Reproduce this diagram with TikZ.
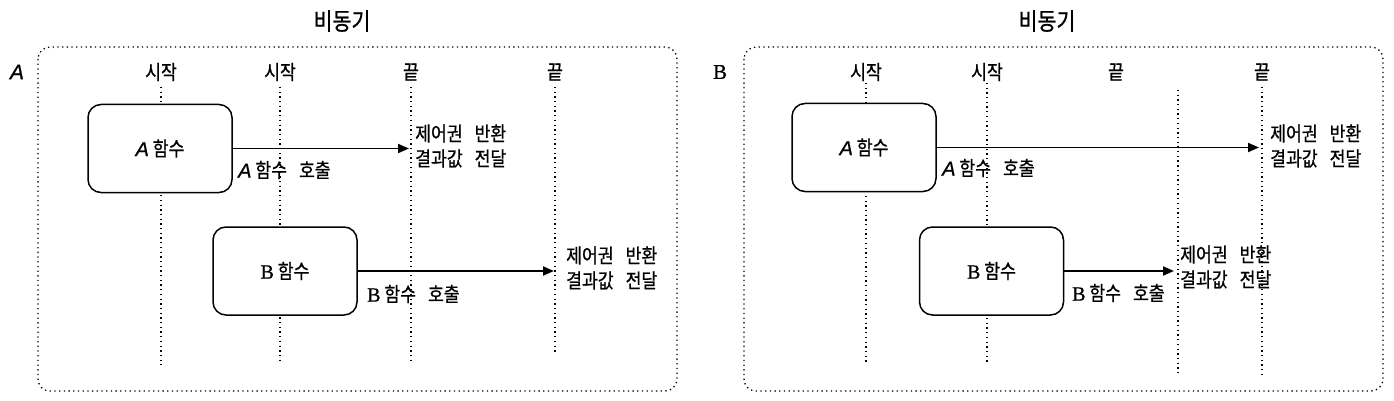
\documentclass[tikz,border=0pt]{standalone}
\usepackage{fontspec}
\setmainfont{Noto Sans CJK KR}[FakeBold=0.7, FakeStretch=0.86]
\newfontfamily\handA{Liberation Sans}[FakeBold=0.8]
\newfontfamily\handB{Liberation Serif}[FakeBold=0.8]
\usetikzlibrary{arrows.meta}

\tikzset{
  txt/.style={inner sep=0pt, font=\fontsize{20}{25}\selectfont},
  ttl/.style={inner sep=0pt, font=\fontsize{24}{28}\selectfont},
  func/.style={draw, line width=1.5pt, rounded corners=13pt, fill=white,
    minimum width=144pt, minimum height=88pt, inner sep=0pt,
    font=\fontsize{20}{25}\selectfont},
  lane/.style={line width=1.3pt, dash pattern=on 1.3pt off 3.4pt},
  frame/.style={line width=1.3pt, dash pattern=on 1.3pt off 3.4pt, rounded corners=12pt},
  call/.style={-{Triangle[length=11pt,width=9pt]}, line width=1.9pt},
}
\newcommand{\la}{{\handA\itshape A}}
\newcommand{\lb}{{\handB B}}
\newcommand{\gap}{\hspace{0.6em}}

\begin{document}
\begin{tikzpicture}[x=1pt,y=-1pt]
  \useasboundingbox (0,0) rectangle (1394,401);

  % ---- left: A ----
  \node[ttl] (titleL) at (342,21) {비동기};
  \draw[frame] (38,47) rectangle (677,391);
  \node[txt] (tagA) at (17,72) {\fontsize{21}{24}\selectfont\la};
  \node[txt] (startLa) at (161,72) {시작};
  \node[txt] (startLb) at (280,72) {시작};
  \node[txt] (endLa) at (411,72) {끝};
  \node[txt] (endLb) at (555,72) {끝};
  % lifelines
  \foreach \x/\t/\b in {161/87/365, 280/87/363, 411/87/360, 555/87/353}
    \draw[lane] (\x,\t) -- (\x,\b);
  % functions
  \node[func] (funcLa) at (160,148.5) {\la\ 함수};
  \node[func] (funcLb) at (285,271) {\lb\ 함수};
  \coordinate (tipLa) at (409,148.5);
  \coordinate (tipLb) at (554,271);
  \draw[call] (funcLa.east) -- (tipLa);
  \draw[call] (funcLb.east) -- (tipLb);
  \node[txt, anchor=west] (callLa) at (238,170) {\la\ 함수\gap 호출};
  \node[txt, anchor=west] (callLb) at (367,294) {\lb\ 함수\gap 호출};
  \node[txt, anchor=west, align=left] (backLa) at (415,146) {제어권\gap 반환\\결과값\gap 전달};
  \node[txt, anchor=west, align=left] (backLb) at (566,268) {제어권\gap 반환\\결과값\gap 전달};

  % ---- right: B ----
  \node[ttl] (titleR) at (1047,21) {비동기};
  \draw[frame] (744,47) rectangle (1383,391);
  \node[txt] (tagB) at (720,72) {\fontsize{21}{24}\selectfont\lb};
  \node[txt] (startRa) at (866,72) {시작};
  \node[txt] (startRb) at (987,72) {시작};
  \node[txt] (endRa) at (1116,72) {끝};
  \node[txt] (endRb) at (1262,72) {끝};
  % lifelines
  \foreach \x/\t/\b in {866/83/363, 987/83/362, 1178/90/375, 1262/87/378}
    \draw[lane] (\x,\t) -- (\x,\b);
  % functions
  \node[func] (funcRa) at (864,147.5) {\la\ 함수};
  \node[func] (funcRb) at (991.5,271) {\lb\ 함수};
  \coordinate (tipRa) at (1259,147.5);
  \coordinate (tipRb) at (1174,271);
  \draw[call] (funcRa.east) -- (tipRa);
  \draw[call] (funcRb.east) -- (tipRb);
  \node[txt, anchor=west] (callRa) at (942,168) {\la\ 함수\gap 호출};
  \node[txt, anchor=west] (callRb) at (1072,293) {\lb\ 함수\gap 호출};
  \node[txt, anchor=west, align=left] (backRa) at (1270,146) {제어권\gap 반환\\결과값\gap 전달};
  \node[txt, anchor=west, align=left] (backRb) at (1180,267) {제어권\gap 반환\\결과값\gap 전달};
\end{tikzpicture}
\end{document}
